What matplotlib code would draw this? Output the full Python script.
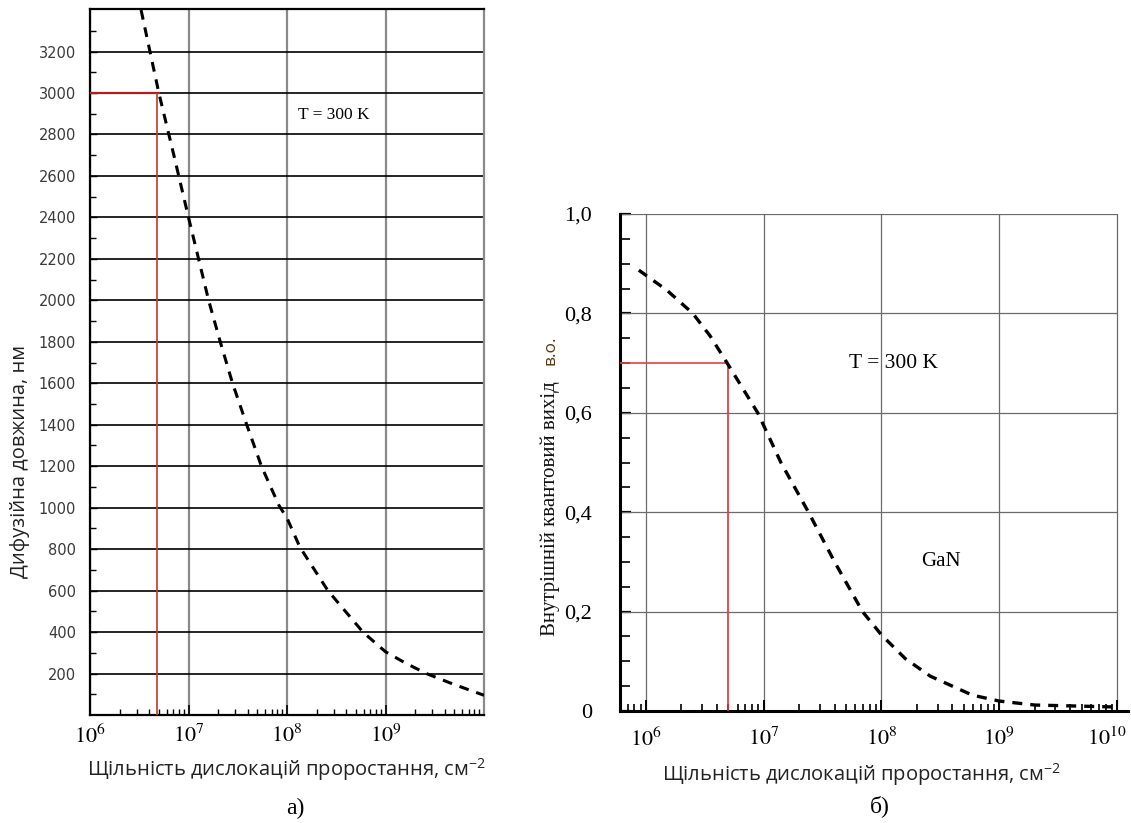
import matplotlib
matplotlib.use("Agg")
import matplotlib.pyplot as plt
from matplotlib.ticker import FixedLocator, FixedFormatter, LogLocator, NullFormatter
from matplotlib.transforms import ScaledTranslation

# ---------------- data ----------------
# panel a) diffusion length vs dislocation density
dens_a = [3.3e6, 5.0e6, 7.1e6, 1.0e7, 1.6e7, 2.1e7, 2.8e7, 3.9e7, 5.5e7, 8.3e7,
          1.0e8, 1.35e8, 2.6e8, 5.9e8, 1.0e9, 1.6e9, 2.6e9, 4.8e9, 1.0e10]
diff_len = [3400, 3000, 2700, 2400, 2000, 1800, 1600, 1400, 1200, 1010,
            950, 810, 600, 400, 305, 250, 200, 150, 95]
mark_a_x = 4.8e6
mark_a_y = 3000

# panel b) internal quantum efficiency vs dislocation density
dens_b = [8.7e5, 1.5e6, 2.5e6, 3.5e6, 4.9e6, 6.6e6, 8.9e6, 1.4e7, 2.4e7, 4.0e7,
          6.9e7, 1.0e8, 1.6e8, 2.6e8, 5.9e8, 1.0e9, 2.0e9, 1.0e10]
iqe = [0.887, 0.847, 0.80, 0.755, 0.70, 0.65, 0.60, 0.50, 0.40, 0.30,
       0.20, 0.153, 0.105, 0.07, 0.032, 0.02, 0.012, 0.008]
mark_b_x = 5.0e6
mark_b_y = 0.70

yticks_a = list(range(200, 3201, 200))
yminor_a = list(range(100, 3400, 200))
xticks_a = [1e6, 1e7, 1e8, 1e9]
xlabels_a = [r'$10^{6}$', r'$10^{7}$', r'$10^{8}$', r'$10^{9}$']

yticks_b = [0, 0.2, 0.4, 0.6, 0.8, 1.0]
ylabels_b = ['0', '0,2', '0,4', '0,6', '0,8', '1,0']
yminor_b = [0.05 * i for i in range(1, 20) if i % 4 != 0]
xticks_b = [1e6, 1e7, 1e8, 1e9, 1e10]
xlabels_b = [r'$10^{6}$', r'$10^{7}$', r'$10^{8}$', r'$10^{9}$', r'$10^{10}$']

xlabel_txt = r'Щільність дислокацій проростання, см$^{\mathregular{-2}}$'

# ---------------- figure ----------------
plt.rcParams['mathtext.fontset'] = 'stix'
W, H = 1131, 823
fig = plt.figure(figsize=(W / 100, H / 100), dpi=100)
fig.patch.set_facecolor('white')

def rect(x0, y0, x1, y1):
    return [x0 / W, 1 - y1 / H, (x1 - x0) / W, (y1 - y0) / H]

def fpt(x, y):
    return (x / W, 1 - y / H)

SANS = ['Open Sans', 'DejaVu Sans']
SERIF = ['Liberation Serif', 'DejaVu Serif']

# ---------- panel a ----------
ax1 = fig.add_axes(rect(90, 9, 484, 715))
ax1.set_xscale('log')
ax1.set_xlim(1e6, 1e10)
ax1.set_ylim(0, 3405)
ax1.plot(dens_a, diff_len, color='black', lw=2.2, ls=(0, (3.2, 2.6)), zorder=4)
ax1.hlines(mark_a_y, 1e6, mark_a_x * 1.08, color='#b01e24', lw=1.6, zorder=3)
ax1.vlines(mark_a_x, 0, mark_a_y, color='#c0392b', lw=1.2, zorder=3)

ax1.xaxis.set_major_locator(FixedLocator(xticks_a))
ax1.xaxis.set_major_formatter(FixedFormatter(xlabels_a))
ax1.xaxis.set_minor_locator(LogLocator(base=10, subs=range(2, 10), numticks=20))
ax1.xaxis.set_minor_formatter(NullFormatter())
ax1.yaxis.set_major_locator(FixedLocator(yticks_a))
ax1.yaxis.set_minor_locator(FixedLocator(yminor_a))
ax1.tick_params(axis='x', which='major', direction='in', length=7, width=1.2,
                labelsize=16, pad=7)
ax1.tick_params(axis='x', which='minor', direction='in', length=4, width=1.0)
ax1.tick_params(axis='y', which='major', direction='in', length=5, width=1.0,
                labelsize=10.5, labelcolor='#3a3a3a', pad=10)
ax1.tick_params(axis='y', which='minor', direction='in', length=4, width=1.0)
for lab in ax1.get_xticklabels():
    lab.set_family(SERIF)
for lab in ax1.get_yticklabels():
    lab.set_family(['DejaVu Sans'])
ax1.grid(axis='x', which='major', color='#8a8a8a', lw=1.6)
ax1.grid(axis='y', which='major', color='black', lw=1.2)
ax1.set_axisbelow(True)
for s in ['left', 'bottom', 'top']:
    ax1.spines[s].set_color('black')
    ax1.spines[s].set_linewidth(1.6)
ax1.spines['right'].set_color('#8a8a8a')
ax1.spines['right'].set_linewidth(1.6)

ax1.text(3.0e8, 2895, 'T = 300 K', family=SERIF, fontsize=12.5, ha='center', va='center')

fig.text(*fpt(20, 461), 'Дифузійна довжина, нм', rotation=90, family=SANS,
         fontsize=14.5, ha='center', va='center', color='#222222')
fig.text(*fpt(287, 770), xlabel_txt, family=SANS, fontsize=14.5, ha='center',
         va='center', color='#222222')
fig.text(*fpt(295, 808), 'а)', family=SERIF, fontsize=17, ha='center', va='center')

# ---------- panel b ----------
ax2 = fig.add_axes(rect(620, 214, 1128, 711))
ax2.set_xscale('log')
ax2.set_xlim(10 ** 5.78, 10 ** 10.093)
ax2.set_ylim(0, 1.0)
ax2.plot(dens_b, iqe, color='black', lw=2.4, ls=(0, (3.0, 2.4)), zorder=4)
ax2.hlines(mark_b_y, 10 ** 5.78, mark_b_x, color='#e0404a', lw=1.2, zorder=3)
ax2.vlines(mark_b_x, 0, mark_b_y, color='#e0303c', lw=1.2, zorder=3)
ax2.hlines(yticks_b[1:], 10 ** 5.78, xticks_b[-1], color='#6a6a6a', lw=0.9, zorder=1)

ax2.xaxis.set_major_locator(FixedLocator(xticks_b))
ax2.xaxis.set_major_formatter(FixedFormatter(xlabels_b))
ax2.xaxis.set_minor_locator(LogLocator(base=10, subs=range(2, 10), numticks=20))
ax2.xaxis.set_minor_formatter(NullFormatter())
ax2.yaxis.set_major_locator(FixedLocator(yticks_b))
ax2.yaxis.set_major_formatter(FixedFormatter(ylabels_b))
ax2.yaxis.set_minor_locator(FixedLocator(yminor_b))
ax2.tick_params(axis='x', which='major', direction='in', length=8, width=1.4,
                labelsize=16, pad=12)
ax2.tick_params(axis='x', which='minor', direction='in', length=5, width=1.2)
ax2.tick_params(axis='y', which='major', direction='in', length=8, width=1.6,
                labelsize=16, pad=20)
ax2.tick_params(axis='y', which='minor', direction='in', length=7, width=1.2)
for lab in ax2.get_xticklabels() + ax2.get_yticklabels():
    lab.set_family(SERIF)
last = ax2.get_xticklabels()[-1]
last.set_transform(last.get_transform() + ScaledTranslation(-10 / 100, 0, fig.dpi_scale_trans))
ax2.grid(axis='x', which='major', color='#6a6a6a', lw=0.9)
ax2.set_axisbelow(True)
ax2.spines['top'].set_visible(False)
ax2.spines['right'].set_visible(False)
ax2.spines['left'].set_linewidth(2.2)
ax2.spines['bottom'].set_linewidth(2.2)

ax2.text(1.26e8, 0.70, 'T = 300 K', family=SERIF, fontsize=15.5, ha='center', va='center')
ax2.text(3.2e8, 0.30, 'GaN', family=SERIF, fontsize=15, ha='center', va='center')

fig.text(*fpt(550, 636), 'Внутрішній квантовий вихід', rotation=90, family=SERIF,
         fontsize=15, ha='center', va='bottom', color='#111111')
fig.text(*fpt(550, 365), 'в.о.', rotation=90, family=SANS,
         fontsize=12.5, ha='center', va='bottom', color='#5a3a10')
fig.text(*fpt(862, 775), xlabel_txt, family=SANS, fontsize=14.5, ha='center',
         va='center', color='#222222')
fig.text(*fpt(880, 806), 'б)', family=SERIF, fontsize=17, ha='center', va='center')

fig.savefig('out.png', dpi=100, facecolor='white')
